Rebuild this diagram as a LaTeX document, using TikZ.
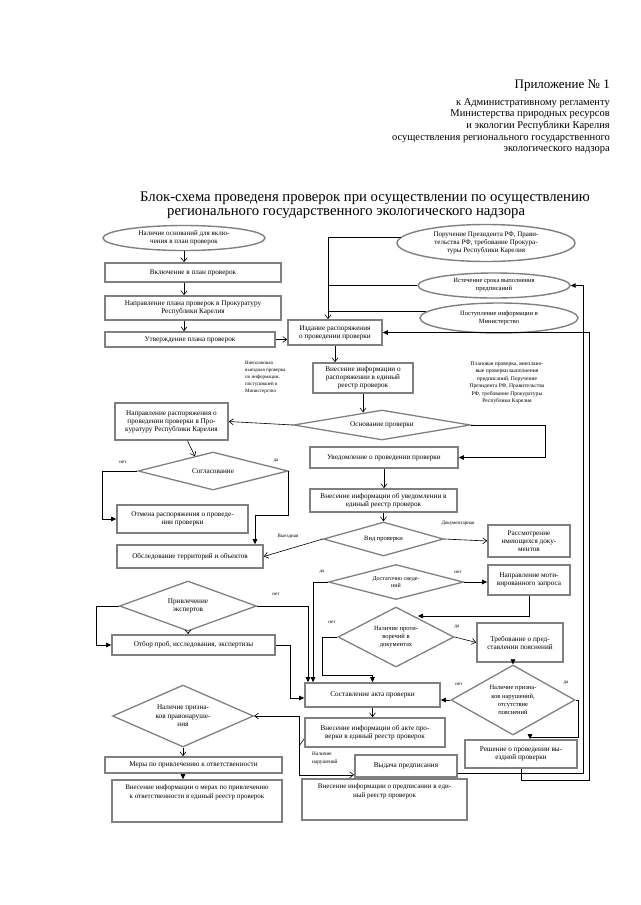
\documentclass[tikz,border=0pt]{standalone}
\usepackage{fontspec}
\setmainfont{Liberation Serif}
\usetikzlibrary{arrows.meta,shapes.geometric,calc}
\newcommand\myfs[2]{\fontsize{#1}{#2}\selectfont}
\tikzset{
 box/.style={draw=black!50, line width=1.6pt, rectangle, align=center, inner sep=1pt, font=\myfs{7.2}{8}},
 ell/.style={draw=black!50, line width=1.4pt, ellipse, align=center, inner sep=0pt, font=\myfs{7}{8.3}},
 dia/.style={draw=black!50, line width=1.3pt, diamond, inner sep=0pt},
 dtxt/.style={align=center, inner sep=0pt, font=\myfs{7.2}{8.5}},
 lbl/.style={inner sep=0pt, font=\myfs{5}{6}},
 hdr/.style={anchor=base east, inner sep=0pt, font=\myfs{10.5}{12}},
 ttl/.style={anchor=base west, inner sep=0pt, font=\myfs{14.7}{16}},
 ln/.style={draw=black, line width=0.6pt},
 oarr/.style={ln, -{Straight Barb[length=4pt,width=6pt]}},
 farr/.style={ln, -{Triangle[length=5pt,width=4.5pt]}},
}
\begin{document}
\begin{tikzpicture}[x=1pt,y=-1pt]
\useasboundingbox[fill=white] (0,0) rectangle (640,905);
% header
\node[hdr, font=\myfs{13}{14}] (h1) at (610,88.5) {Приложение № 1};
\node[hdr] (h2) at (610,105) {к Административному регламенту};
\node[hdr] (h3) at (610,116.7) {Министерства природных ресурсов};
\node[hdr] (h4) at (610,128.4) {и экологии Республики Карелия};
\node[hdr] (h5) at (610,140.1) {осуществления регионального государственного};
\node[hdr] (h6) at (610,151.8) {экологического надзора};
% title
\node[ttl] (ttl1) at (140,201) {Блок-схема проведеня проверок при осуществлении по осуществлению};
\node[ttl] (ttl2) at (167,215) {регионального государственного экологического надзора};
% left top column
\node[ell, minimum width=162pt, minimum height=25pt] (e1) at (184,238) {Наличие оснований для вклю-\\чения в план проверок};
\node[box, minimum width=176pt, minimum height=19pt] (b1) at (193,272.5) {Включение в план проверок};
\node[box, minimum width=176pt, minimum height=24pt] (b2) at (193,308) {Направление плана проверок в Прокуратуру\\Республики Карелия};
\node[box, minimum width=170pt, minimum height=15pt] (b3) at (190,339.5) {Утверждение плана проверок};
\node[box, minimum width=94pt, minimum height=25pt] (i1) at (335,332.5) {Издание распоряжения\\о проведении проверки};
% right ellipses
\node[ell, minimum width=178pt, minimum height=37pt] (e2) at (486,243) {Поручение Президента РФ, Прави-\\тельства РФ, требование Прокура-\\туры Республики Карелия};
\node[ell, font=\myfs{6.5}{8}, minimum width=152pt, minimum height=25pt] (e3) at (494,285.5) {Истечение срока выполнения\\предписаний};
\node[ell, font=\myfs{6.5}{7.5}, minimum width=158pt, minimum height=30pt] (e4) at (499,318) {Поступление информации в\\Министерство};
\coordinate (jx) at (328,0);
\draw[ln] (e2.176) -- (e2.176 -| jx);
\draw[oarr] (e2.176 -| jx) -- (jx |- i1.north);
\draw[ln] (e3.west) -- (e3.west -| jx);
\draw[ln] (e4.175) -- (e4.175 -| jx);
\draw[oarr] (e1.south) -- (e1 |- b1.north);
\draw[oarr] (e1 |- b1.south) -- (e1 |- b2.north);
\draw[oarr] (e1 |- b2.south) -- (e1 |- b3.north);
\draw[oarr] (b3.east) -- (b3.east -| i1.west);
% centre
\node[box, minimum width=100pt, minimum height=30pt] (i2) at (363,378) {Внесение информации о\\распоряжении в единый\\реестр проверок};
\draw[oarr] (i1.south) -- (i1.south |- i2.north);
\node[dia, minimum width=177pt, minimum height=30pt] (d1) at (382,425) {};
\node[dtxt] (d1t) at (d1) {Основание проверки};
\draw[oarr] (i2.south) -- ($(i2.south |- d1.north)+(0,3)$);
\node[lbl, font=\myfs{5.6}{7.5}, align=center] (lb1) at (507,383) {Плановая проверка, внеплано-\\вые проверки выполнения\\предписаний, Поручение\\Президента РФ, Правительства\\РФ, требование Прокуратуры\\Республики Карелия};
\coordinate (k0) at (545,0);
\node[box, minimum width=148pt, minimum height=21pt] (u1) at (384,457.5) {Уведомление о проведении проверки};
\draw[farr] (d1.east) -| (k0 |- u1.east) -- (u1.east);
\node[box, minimum width=113pt, minimum height=37pt] (n1) at (171.5,421.5) {Направление распоряжения о\\проведении проверки в Про-\\куратуру Республики Карелия};
\draw[oarr] (d1.west) -- (n1.east);
\node[lbl, align=left, anchor=north west, font=\myfs{5}{7}] (lb2) at (245,361) {Внеплановая\\выездная проверка\\по информации,\\поступившей в\\Министерство};
\node[dia, minimum width=150pt, minimum height=38pt] (d2) at (213,471) {};
\node[dtxt] (d2t) at (d2) {Согласование};
\draw[oarr] ($(n1.south)+(16,0)$) -- ($(d2.north)+(-18,5)$);
\node[lbl] (no1) at (123,462) {нет};
\node[lbl] (da1) at (276,461) {да};
\coordinate (lx1) at (102,0);
\node[box, minimum width=131pt, minimum height=28pt] (c1) at (182.5,519) {Отмена распоряжения о проведе-\\нии проверки};
\draw[farr] (d2.west) -| (lx1 |- c1.west) -- (c1.west);
\coordinate (k1) at (255,515);
\node[box, minimum width=146pt, minimum height=23pt] (o1) at (190,556.5) {Обследование территорий и объектов};
\draw[farr] (d2.east) |- (k1) -- (k1 |- o1.north);
\node[box, minimum width=147pt, minimum height=23pt] (v1) at (383.5,500.5) {Внесение информации об уведомлении в\\единый реестр проверок};
\draw[oarr] (u1.south) -- (u1.south |- v1.north);
\node[dia, minimum width=120pt, minimum height=34pt] (d3) at (383.5,539) {};
\node[dtxt, font=\myfs{6.5}{8}] (d3t) at (d3) {Вид проверки};
\draw[oarr] (v1.south) -- (d3.north);
\draw[oarr] (d3.west) -- (o1.east);
\node[lbl] (lvy) at (288,536) {Выездная};
\node[box, minimum width=82pt, minimum height=32pt] (r1) at (529,541) {Рассмотрение\\имеющихся доку-\\ментов};
\draw[oarr] (d3.east) -- (r1.west);
\node[lbl] (ldoc) at (458,523.5) {Документарная};
\node[dia, minimum width=135pt, minimum height=35pt] (d4) at (396,582) {};
\node[dtxt, font=\myfs{6}{7.5}] (d4t) at (d4) {Достаточно сведе-\\ний};
\node[lbl] (da2) at (322,572) {да};
\node[lbl] (no2) at (458,572) {нет};
\node[box, minimum width=82pt, minimum height=30pt] (m1) at (529,580) {Направление моти-\\вированного запроса};
\draw[farr] (d4.east) -- (d4.east -| m1.west);
\node[dia, minimum width=116pt, minimum height=60pt] (d5) at (396,637) {};
\node[dtxt, font=\myfs{6.5}{8}] (d5t) at (d5) {Наличие проти-\\воречий в\\документах};
\coordinate (k2) at (418,616);
\draw[farr] (m1.south) |- (k2);
\node[lbl] (no3) at (332,622) {нет};
\node[lbl] (da3) at (457,627) {да};
\node[box, minimum width=86pt, minimum height=39pt] (treb) at (520,642.5) {Требование о пред-\\ставлении пояснений};
\draw[oarr] (d5.east) -- (treb.west);
\node[box, minimum width=135pt, minimum height=24pt] (s1) at (372.5,695) {Составление акта проверки};
\coordinate (k3) at (313,0);
\draw[farr] (d4.west) -| (k3 |- s1.north);
\coordinate (k4) at (322,675);
\draw[farr] (d5.west) -| (k4) -| (s1.north);
\node[dia, minimum width=124pt, minimum height=70pt] (d6) at (513,700) {};
\node[dtxt, font=\myfs{6.5}{8.2}] (d6t) at (d6) {Наличие призна-\\ков нарушений,\\отсутствие\\пояснений};
\draw[farr] (treb.south -| d6.north) -- (d6.north);
\draw[farr] (d6.west) -- (d6.west -| s1.east);
\node[lbl] (no4) at (459,684) {нет};
\node[lbl] (da4) at (566,683) {да};
\node[box, minimum width=112pt, minimum height=28pt] (resh) at (521,754) {Решение о проведении вы-\\ездной проверки};
\coordinate (k7) at (578,737);
\coordinate (k8) at (530,0);
\draw[farr] (d6.east) -| (k7) -| (k8 |- resh.north);
\node[box, minimum width=140pt, minimum height=29pt] (a1) at (375,732.5) {Внесение информации об акте про-\\верки в единый реестр проверок};
\draw[oarr] (s1.south) -- (s1.south |- a1.north);
\node[lbl, align=left, anchor=north west, font=\myfs{5.3}{8}] (lnar) at (312,752) {Наличие\\нарушений};
\node[box, minimum width=102pt, minimum height=22pt] (vyd) at (406,766) {Выдача предписания};
\node[box, minimum width=165pt, minimum height=41pt] (vpr) at (384.5,799.5) {};
\node[dtxt, anchor=north, font=\myfs{7}{9}] (vprt) at ($(vpr.north)+(0,5)$) {Внесение информации о предписании в еди-\\ный реестр проверок};
% left bottom
\node[dia, minimum width=137pt, minimum height=50pt] (pe) at (188,606) {};
\node[dtxt] (pet) at (pe) {Привлечение\\экспертов};
\node[lbl] (no5) at (276,594) {нет};
\node[box, minimum width=163pt, minimum height=20pt] (ot) at (193.5,645) {Отбор проб, исследования, экспертизы};
\coordinate (lx2) at (96,0);
\draw[farr] (pe.west) -| (lx2 |- ot.west) -- (ot.west);
\draw[oarr] (pe.south) -- (pe.south |- ot.north);
\coordinate (k5) at (308,0);
\draw[farr] (pe.east) -| (k5 |- s1.north);
\coordinate (k6) at (290,698);
\draw[farr] (ot.east) -| (k6) -- (k6 -| s1.west);
\node[dia, minimum width=141pt, minimum height=62pt] (pd) at (183,716) {};
\node[dtxt] (pdt) at (pd) {Наличие призна-\\ков правонаруше-\\ния};
\coordinate (j2) at (299,746);
\draw[ln] ($(a1.south west)+(0,-9)$) -- (j2);
\draw[oarr] (j2) |- (pd.east);
\draw[oarr] (j2) |- ($(vyd.south west)+(0,-3)$);
\node[box, minimum width=177pt, minimum height=16pt] (me) at (193.5,765) {Меры по привлечению к ответственности};
\draw[oarr] (pd.south) -- (pd.south |- me.north);
\node[box, minimum width=170pt, minimum height=42pt] (vm) at (197,801) {};
\node[dtxt, anchor=north, font=\myfs{7}{9}] (vmt) at ($(vm.north)+(0,5)$) {Внесение информации о мерах по привлечению\\к ответственности в единый реестр проверок};
\draw[farr] (pd.south |- me.south) -- (pd.south |- vm.north);
% right loops
\coordinate (rx1) at (583,0);
\coordinate (rx2) at (589,0);
\draw[farr] ($(vyd.south east)+(0,-5)$) -| (rx1 |- e3.east) -- (e3.east);
\draw[farr] (resh.south) -- ++(0,11) -| (rx2 |- i1.east) -- (i1.east);
\end{tikzpicture}
\end{document}
